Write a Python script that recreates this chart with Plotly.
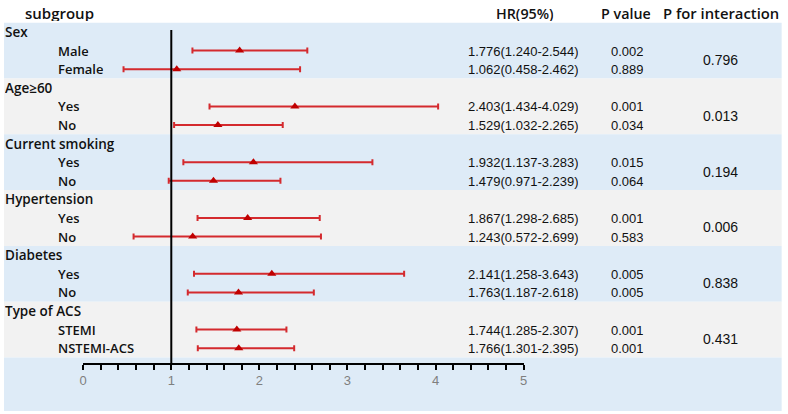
import plotly.graph_objects as go

# ---------------- data ----------------
groups = ["Sex", "Age≥60", "Current smoking", "Hypertension", "Diabetes", "Type of ACS"]
subgroups = [["Male", "Female"], ["Yes", "No"], ["Yes", "No"], ["Yes", "No"], ["Yes", "No"],
             ["STEMI", "NSTEMI-ACS"]]
hr = [1.776, 1.062, 2.403, 1.529, 1.932, 1.479, 1.867, 1.243, 2.141, 1.763, 1.744, 1.766]
lo = [1.240, 0.458, 1.434, 1.032, 1.137, 0.971, 1.298, 0.572, 1.258, 1.187, 1.285, 1.301]
hi = [2.544, 2.462, 4.029, 2.265, 3.283, 2.239, 2.685, 2.699, 3.643, 2.618, 2.307, 2.395]
p_values = ["0.002", "0.889", "0.001", "0.034", "0.015", "0.064", "0.001", "0.583", "0.005", "0.005",
            "0.001", "0.001"]
p_interaction = ["0.796", "0.013", "0.194", "0.006", "0.838", "0.431"]
headers = ["subgroup", "HR(95%)", "P value", "P for interaction"]
x_ticks = [0, 1, 2, 3, 4, 5]

# ---------------- layout helpers ----------------
W, H = 788, 414
X0_PX, X5_PX = 80, 525          # pixel positions of axis values 0 and 5
ROW0_PX, ROW_H = 13.4, 18.6      # pixel of row 0 and row spacing


def px_x(p):
    return p / W


def row_of_px(p):
    return (p - ROW0_PX) / ROW_H


label_font = "Open Sans, Noto Sans, sans-serif"
num_font = "Liberation Sans, Arial, sans-serif"

# rows
group_rows = [1 + 3 * g for g in range(len(groups))]
sub_rows = []
sub_labels = []
for g, subs in enumerate(subgroups):
    for k, s in enumerate(subs):
        sub_rows.append(group_rows[g] + 1 + k)
        sub_labels.append(s)

fig = go.Figure()

fig.add_trace(go.Scatter(
    x=hr, y=sub_rows, mode="markers",
    marker=dict(symbol="triangle-up", size=8, color="#c00000"),
    error_x=dict(type="data", symmetric=False,
                 array=[h - m for h, m in zip(hi, hr)],
                 arrayminus=[m - l for m, l in zip(hr, lo)],
                 color="#d42a2e", thickness=2, width=3),
    showlegend=False, hoverinfo="skip",
))

shapes = []
# background bands
band_colors = ["#deebf7", "#f2f2f2"]
for g in range(len(groups)):
    shapes.append(dict(type="rect", xref="paper", yref="y", x0=0, x1=0.997,
                       y0=group_rows[g] - 0.5, y1=group_rows[g] + 2.5,
                       fillcolor=band_colors[g % 2], line=dict(width=0), layer="below"))
shapes.append(dict(type="rect", xref="paper", yref="y", x0=0, x1=0.997,
                   y0=group_rows[-1] + 2.5, y1=row_of_px(411),
                   fillcolor=band_colors[0], line=dict(width=0), layer="below"))
# reference line at HR = 1
axis_row = group_rows[-1] + 3 - 0.15
shapes.append(dict(type="line", xref="x", yref="y", x0=1, x1=1,
                   y0=row_of_px(30), y1=axis_row, line=dict(color="black", width=2)))

annotations = []


def add_text(text, xpx, row, size, font, anchor="left", color="#111111", weight="normal"):
    annotations.append(dict(text=text, x=px_x(xpx), xref="paper", y=row, yref="y",
                            xanchor=anchor, yanchor="middle", showarrow=False,
                            height=16, borderpad=0,
                            font=dict(family=font, size=size, color=color, weight=weight)))


# headers
add_text(headers[0], 20, 0, 15, label_font, weight=600)
add_text(headers[1], 526, 0, 14.3, label_font, anchor="center", weight=600)
add_text(headers[2], 628, 0, 14.3, label_font, anchor="center", weight=600)
add_text(headers[3], 724, 0, 14.8, label_font, anchor="center", weight=600)

for g, name in enumerate(groups):
    add_text(name, 0, group_rows[g], 13.5, label_font, weight=600)
    add_text(p_interaction[g], 724, group_rows[g] + 1.5, 14, num_font, anchor="center")

for i, (lab, r) in enumerate(zip(sub_labels, sub_rows)):
    add_text(lab, 54, r, 13, label_font, weight=600)
    add_text(f"{hr[i]:.3f}({lo[i]:.3f}-{hi[i]:.3f})", 468, r, 13, num_font)
    add_text(p_values[i], 612, r, 13, num_font)

fig.update_layout(
    width=W, height=H,
    margin=dict(l=0, r=0, t=0, b=0),
    paper_bgcolor="white", plot_bgcolor="rgba(0,0,0,0)",
    shapes=shapes, annotations=annotations,
    xaxis=dict(domain=[px_x(X0_PX), px_x(X5_PX)], range=[0, 5],
               anchor="free", position=(H - (ROW0_PX + ROW_H * axis_row)) / H,
               showgrid=False, zeroline=False, showline=True, linecolor="black", linewidth=1.5,
               ticks="outside", ticklen=5, tickwidth=1.5, tickcolor="black",
               tickvals=x_ticks, ticktext=[str(t) for t in x_ticks],
               tickfont=dict(family=num_font, size=13, color="#7f7f7f"),
               minor=dict(dtick=0.2, ticks="outside", ticklen=5, tickwidth=1.5,
                          tickcolor="black", showgrid=False)),
    yaxis=dict(domain=[0, 1], range=[row_of_px(H), row_of_px(0)],
               showgrid=False, zeroline=False, showline=False, showticklabels=False, ticks=""),
)

fig.write_html("out.html")
